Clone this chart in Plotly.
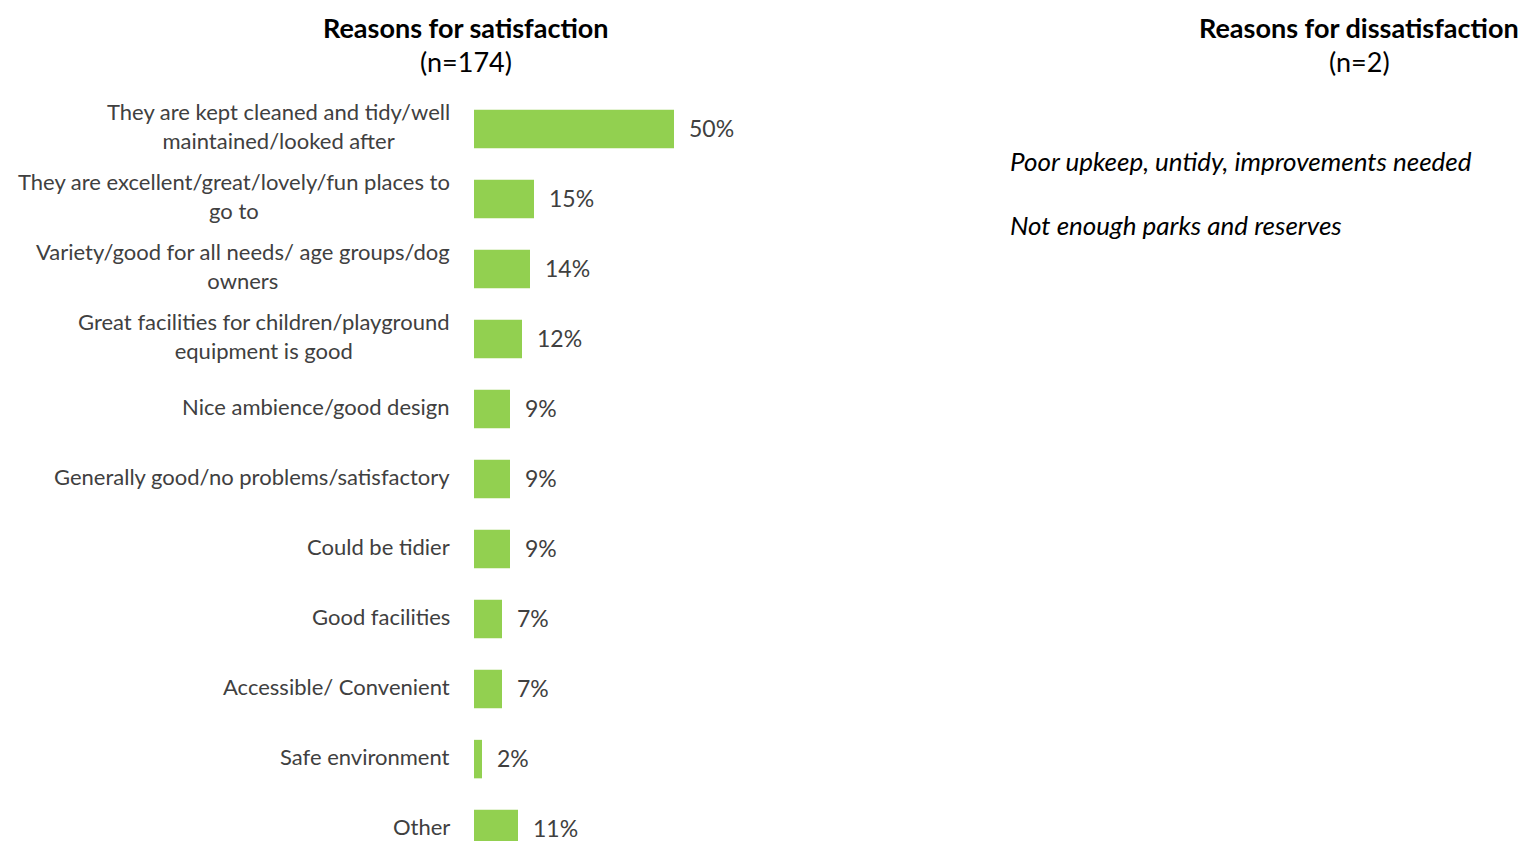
import plotly.graph_objects as go

# Reasons given by satisfied respondents (n=174), share of mentions in %
categories = [
    "They are kept cleaned and tidy/well<br>maintained/looked after",
    "They are excellent/great/lovely/fun places to<br>go to",
    "Variety/good for all needs/ age groups/dog<br>owners",
    "Great facilities for children/playground<br>equipment is good",
    "Nice ambience/good design",
    "Generally good/no problems/satisfactory",
    "Could be tidier",
    "Good facilities",
    "Accessible/ Convenient",
    "Safe environment",
    "Other",
]
values = [50, 15, 14, 12, 9, 9, 9, 7, 7, 2, 11]

# Reasons given by dissatisfied respondents (n=2)
dissatisfaction_reasons = [
    "Poor upkeep, untidy, improvements needed",
    "Not enough parks and reserves",
]

FONT = "Lato"
GREEN = "#92D050"
LABEL_GREY = "#404040"

W, H = 1525, 841
L, T = 474, 94
PLOT_W = 400

fig = go.Figure(
    go.Bar(
        x=values,
        y=categories,
        orientation="h",
        marker=dict(color=GREEN, line=dict(width=0)),
        width=0.55,
        hoverinfo="skip",
    )
)

# Category labels: right-aligned block, lines centred within it
for cat in categories:
    fig.add_annotation(
        x=0, y=cat, xref="paper", yref="y", text=cat, showarrow=False,
        xanchor="right", yanchor="middle", align="center", xshift=-22, yshift=3,
        font=dict(family=FONT, size=22, color=LABEL_GREY),
    )

# Value labels beside each bar
for cat, v in zip(categories, values):
    fig.add_annotation(
        x=v, y=cat, text=f"{v}%", showarrow=False,
        xanchor="left", yanchor="middle", xshift=13, yshift=1,
        font=dict(family=FONT, size=23, color=LABEL_GREY),
    )

def px_x(p):
    return (p - L) / PLOT_W

def px_y(p):
    return 1 - (p - T) / (H - T)

# Panel headings
fig.add_annotation(x=px_x(466), y=px_y(27), xref="paper", yref="paper",
                   text="<b>Reasons for satisfaction</b>", showarrow=False,
                   xanchor="center", yanchor="middle",
                   font=dict(family=FONT, size=27, color="#000000"))
fig.add_annotation(x=px_x(466), y=px_y(62), xref="paper", yref="paper",
                   text="(n=174)", showarrow=False,
                   xanchor="center", yanchor="middle",
                   font=dict(family=FONT, size=27, color="#000000"))
fig.add_annotation(x=px_x(1359), y=px_y(27), xref="paper", yref="paper",
                   text="<b>Reasons for dissatisfaction</b>", showarrow=False,
                   xanchor="center", yanchor="middle",
                   font=dict(family=FONT, size=27, color="#000000"))
fig.add_annotation(x=px_x(1359), y=px_y(62), xref="paper", yref="paper",
                   text="(n=2)", showarrow=False,
                   xanchor="center", yanchor="middle",
                   font=dict(family=FONT, size=27, color="#000000"))

# Dissatisfaction comments
for i, reason in enumerate(dissatisfaction_reasons):
    fig.add_annotation(x=px_x(1008), y=px_y(161 + 64 * i), xref="paper", yref="paper",
                       text=f"<i>{reason}</i>", showarrow=False,
                       xanchor="left", yanchor="middle",
                       font=dict(family=FONT, size=26, color="#000000"))

fig.update_layout(
    width=W, height=H,
    margin=dict(l=L, r=W - L - PLOT_W, t=T, b=0, pad=0),
    paper_bgcolor="white", plot_bgcolor="white",
    showlegend=False,
    font=dict(family=FONT, size=22, color=LABEL_GREY),
)
fig.update_xaxes(range=[0, 100], visible=False, fixedrange=True)
fig.update_yaxes(
    range=[10.17, -0.5], showgrid=False, zeroline=False, showline=False,
    showticklabels=False, ticks="", fixedrange=True,
)

fig.write_html("out.html")
